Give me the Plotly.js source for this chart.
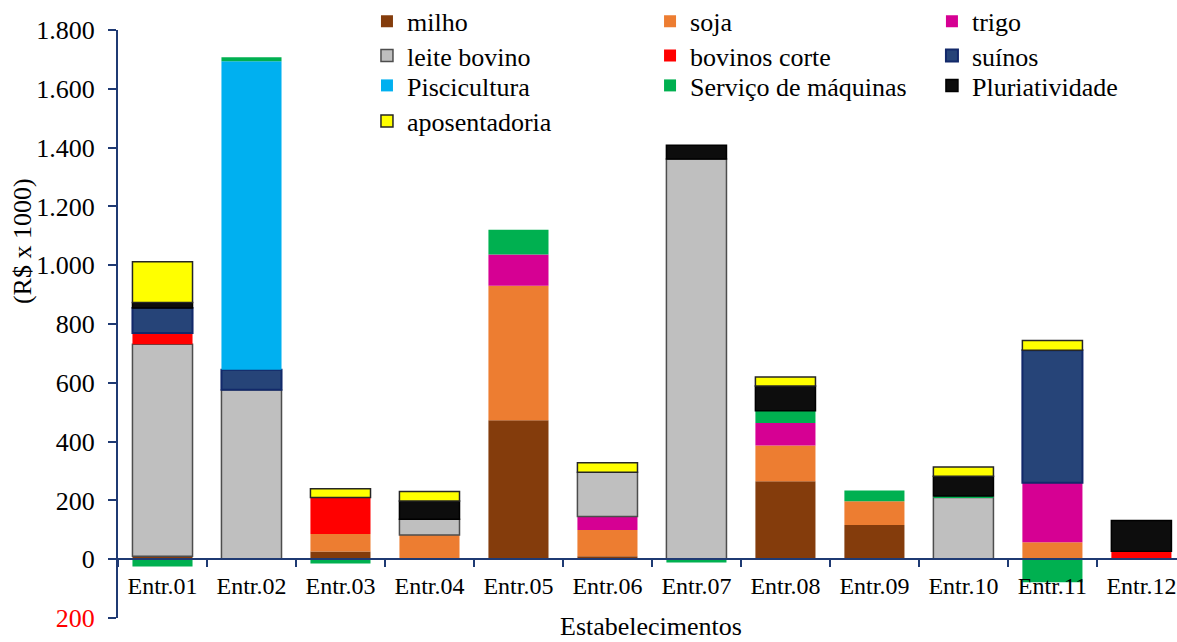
<!DOCTYPE html>
<html>
<head>
<meta charset="utf-8">
<script src="https://cdn.plot.ly/plotly-3.0.1.min.js"></script>
<style>html,body{margin:0;padding:0;background:#fff;overflow:hidden}</style>
</head>
<body>
<div id="chart" style="width:1177px;height:642px"></div>
<script>
const categories = ["Entr.01","Entr.02","Entr.03","Entr.04","Entr.05","Entr.06","Entr.07","Entr.08","Entr.09","Entr.10","Entr.11","Entr.12"];
const milho        = [10, null, 26, null, 473, 10, null, 265, 116, null, null, null];
const soja         = [null, null, 60, 82, 457, 89, null, 122, 81, null, 58, null];
const trigo        = [null, null, null, null, 106, 46, null, 76, null, null, 202, null];
const leiteBovino  = [721, 576, null, 54, null, 151, 1361, null, null, 210, null, null];
const bovinosCorte = [38, null, 124, null, null, null, null, null, null, null, null, 27];
const suinos       = [85, 68, null, null, null, null, null, null, null, null, 451, null];
const piscicultura = [null, 1050, null, null, null, null, null, null, null, null, null, null];
const servicoMaq   = [-25, 13, -15, null, 85, null, -11, 42, 37, 5, -78, null];
const pluriativ    = [19, null, null, 62, null, null, 47, 84, null, 67, null, 105];
const aposentadoria= [139, null, 30, 32, null, 32, null, 31, null, 32, 33, null];

const yTickVals = [-200, 0, 200, 400, 600, 800, 1000, 1200, 1400, 1600, 1800];
const yTickText = ['<span style="color:#FF0000">200</span>', "0", "200", "400", "600", "800", "1.000", "1.200", "1.400", "1.600", "1.800"];

const FONT = "Liberation Serif";
const NAVY = "#1F3A73";

function bar(name, y, color, legend, lineColor, lineWidth) {
  return {
    type: "bar", name: name, x: categories, y: y, legend: legend,
    marker: {color: color, line: {color: lineColor || color, width: lineWidth || 0}},
    hoverinfo: "x+y+name"
  };
}

const data = [
  bar("milho", milho, "#843C0C", "legend"),
  bar("soja", soja, "#ED7D31", "legend2"),
  bar("trigo", trigo, "#D60093", "legend3"),
  bar("leite bovino", leiteBovino, "#BFBFBF", "legend4", "#4D4D4D", 1.5),
  bar("bovinos corte", bovinosCorte, "#FF0000", "legend5"),
  bar("suínos", suinos, "#264478", "legend6", "#12296A", 2),
  bar("Piscicultura", piscicultura, "#00B0F0", "legend7"),
  bar("Serviço de máquinas", servicoMaq, "#00B050", "legend8"),
  bar("Pluriatividade", pluriativ, "#0D0D0D", "legend9", "#000000", 1.5),
  bar("aposentadoria", aposentadoria, "#FFFF00", "legend10", "#262626", 1.5)
];

// legend grid: 3 columns x 4 rows (paper coordinates)
const legendCols = [0.2351, 0.5024, 0.7686];
const legendRows = [1.0148, 0.9563, 0.9056, 0.8452];

function legendAt(col, row) {
  return {
    orientation: "v", xanchor: "left", yanchor: "middle",
    x: legendCols[col], y: legendRows[row],
    font: {family: FONT, size: 26, color: "#000"},
    bgcolor: "rgba(0,0,0,0)", itemclick: false, itemdoubleclick: false
  };
}

const boundaryTicks = categories.slice(0, -1).map((c, i) => i + 0.5);

const layout = {
  width: 1177, height: 642,
  margin: {l: 118, r: 0, t: 30, b: 24, autoexpand: false},
  paper_bgcolor: "#fff", plot_bgcolor: "#fff",
  barmode: "relative", bargap: 0.325,
  font: {family: FONT, color: "#000"},
  showlegend: true,
  legend:   legendAt(0, 0),
  legend2:  legendAt(1, 0),
  legend3:  legendAt(2, 0),
  legend4:  legendAt(0, 1),
  legend5:  legendAt(1, 1),
  legend6:  legendAt(2, 1),
  legend7:  legendAt(0, 2),
  legend8:  legendAt(1, 2),
  legend9:  legendAt(2, 2),
  legend10: legendAt(0, 3),
  xaxis: {
    type: "category", range: [-0.5, 11.4], anchor: "free", position: 0.0998,
    showline: true, linecolor: NAVY, linewidth: 2,
    ticks: "outside", tickson: "boundaries", ticklen: 7, tickwidth: 2, tickcolor: NAVY,
    tickfont: {family: FONT, size: 24, color: "#000"},
    ticklabelstandoff: 5,
    showgrid: false, zeroline: false, fixedrange: true
  },
  xaxis2: {
    overlaying: "x", anchor: "free", position: 0.0998, range: [-0.5, 11.4],
    tickmode: "array", tickvals: boundaryTicks, ticktext: boundaryTicks.map(() => ""),
    ticks: "inside", ticklen: 7, tickwidth: 2, tickcolor: NAVY,
    showline: false, showgrid: false, zeroline: false, showticklabels: false, fixedrange: true
  },
  yaxis: {
    range: [-200, 1800], tickmode: "array", tickvals: yTickVals, ticktext: yTickText,
    showline: true, linecolor: NAVY, linewidth: 2,
    ticks: "outside", ticklen: 8, tickwidth: 2, tickcolor: NAVY,
    tickfont: {family: FONT, size: 26, color: "#000"},
    ticklabelstandoff: 8,
    showgrid: false, zeroline: false, fixedrange: true
  },
  yaxis2: {
    overlaying: "y", anchor: "x", side: "left", range: [-200, 1800],
    tickmode: "array", tickvals: yTickVals, ticktext: yTickVals.map(() => ""),
    ticks: "inside", ticklen: 8, tickwidth: 2, tickcolor: NAVY,
    showline: false, showgrid: false, zeroline: false, showticklabels: false, fixedrange: true
  },
  annotations: [
    {text: "(R$ x 1000)", xref: "paper", yref: "paper", x: -0.0907, y: 0.641,
     textangle: -90, showarrow: false, xanchor: "center", yanchor: "middle",
     font: {family: FONT, size: 26, color: "#000"}},
    {text: "Estabelecimentos", xref: "paper", yref: "paper", x: 0.503, y: -0.0153,
     showarrow: false, xanchor: "center", yanchor: "middle",
     font: {family: FONT, size: 26, color: "#000"}}
  ]
};

Plotly.newPlot("chart", data, layout, {displayModeBar: false});
</script>
</body>
</html>
